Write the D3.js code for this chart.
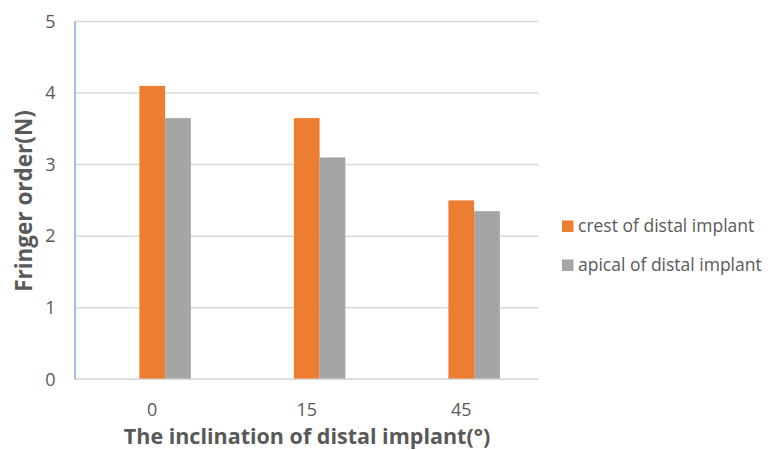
<!DOCTYPE html>
<html>
<head>
<meta charset="utf-8">
<script src="https://cdn.jsdelivr.net/npm/d3@7"></script>
<style>
  html, body { margin: 0; padding: 0; background: #fff; }
  svg { display: block; font-family: "Open Sans", "Noto Sans", sans-serif; }
</style>
</head>
<body>
<svg id="chart" width="771" height="450"></svg>
<script>
// Inclination categories (degrees) and force per location
const categories = ["0", "15", "45"];
const crestValues = [4.1, 3.65, 2.5];
const apicalValues = [3.65, 3.1, 2.35];
const seriesNames = ["crest of distal implant", "apical of distal implant"];
const seriesColors = ["#ED7D31", "#A5A5A5"];
const yTicks = [0, 1, 2, 3, 4, 5];

const svg = d3.select("#chart");
const plot = { left: 75, right: 538.5, top: 21.5, bottom: 379.3 };

const x0 = d3.scaleBand().domain(categories).range([plot.left, plot.right]).paddingInner(0).paddingOuter(0);
// Each group holds three slots; the first slot stays empty, the two series fill the others
const slots = ["", ...seriesNames];
const x1 = d3.scaleBand().domain(slots)
  .range([0, x0.bandwidth()]).paddingInner(0).paddingOuter(1.5);
const y = d3.scaleLinear().domain([0, 5]).range([plot.bottom, plot.top]);

// Gridlines
svg.append("g")
  .selectAll("line").data(yTicks).join("line")
  .attr("x1", plot.left).attr("x2", plot.right)
  .attr("y1", d => y(d)).attr("y2", d => y(d))
  .attr("stroke", "#d9d9d9").attr("stroke-width", 1.5);

// Y tick labels
svg.append("g")
  .selectAll("text").data(yTicks).join("text")
  .attr("x", 55.5).attr("y", d => y(d))
  .attr("dy", "0.35em").attr("text-anchor", "end")
  .attr("font-size", 18).attr("fill", "#595959")
  .text(d => d);

// Bars
const rows = categories.map((c, i) => ({ cat: c, vals: [crestValues[i], apicalValues[i]] }));
const groups = svg.append("g").selectAll("g").data(rows).join("g")
  .attr("transform", d => `translate(${x0(d.cat)},0)`);
groups.selectAll("rect")
  .data(d => d.vals.map((v, k) => ({ key: seriesNames[k], v, k })))
  .join("rect")
  .attr("x", d => x1(d.key))
  .attr("width", x1.bandwidth())
  .attr("y", d => y(d.v))
  .attr("height", d => y(0) - y(d.v))
  .attr("fill", d => seriesColors[d.k]);

// Baseline and vertical axis line
svg.append("line")
  .attr("x1", plot.left).attr("x2", plot.right)
  .attr("y1", y(0)).attr("y2", y(0))
  .attr("stroke", "#d9d9d9").attr("stroke-width", 1.5);
svg.append("line")
  .attr("x1", plot.left).attr("x2", plot.left)
  .attr("y1", y(5)).attr("y2", y(0))
  .attr("stroke", "#5B9BD5").attr("stroke-width", 1.2);

// X tick labels
svg.append("g")
  .selectAll("text").data(categories).join("text")
  .attr("x", d => x0(d) + x0.bandwidth() / 2)
  .attr("y", 409.5).attr("dy", "0.35em")
  .attr("text-anchor", "middle")
  .attr("font-size", 18).attr("fill", "#595959")
  .text(d => d);

// Axis titles
svg.append("text")
  .attr("x", 307).attr("y", 444)
  .attr("text-anchor", "middle")
  .attr("font-size", 21.5).attr("font-weight", "bold").attr("fill", "#595959")
  .text("The inclination of distal implant(°)");
svg.append("text")
  .attr("transform", "translate(32,201) rotate(-90)")
  .attr("text-anchor", "middle")
  .attr("font-size", 22.5).attr("font-weight", "bold").attr("fill", "#595959")
  .text("Fringer order(N)");

// Legend
const legend = svg.append("g").selectAll("g").data(seriesNames).join("g")
  .attr("transform", (d, i) => `translate(562,${226 + i * 39})`);
legend.append("rect")
  .attr("x", 0).attr("y", -5.5).attr("width", 11.5).attr("height", 11.5)
  .attr("fill", (d, i) => seriesColors[i]);
legend.append("text")
  .attr("x", 16).attr("y", 0).attr("dy", "0.35em")
  .attr("font-size", 17.5).attr("fill", "#595959")
  .text(d => d);
</script>
</body>
</html>
